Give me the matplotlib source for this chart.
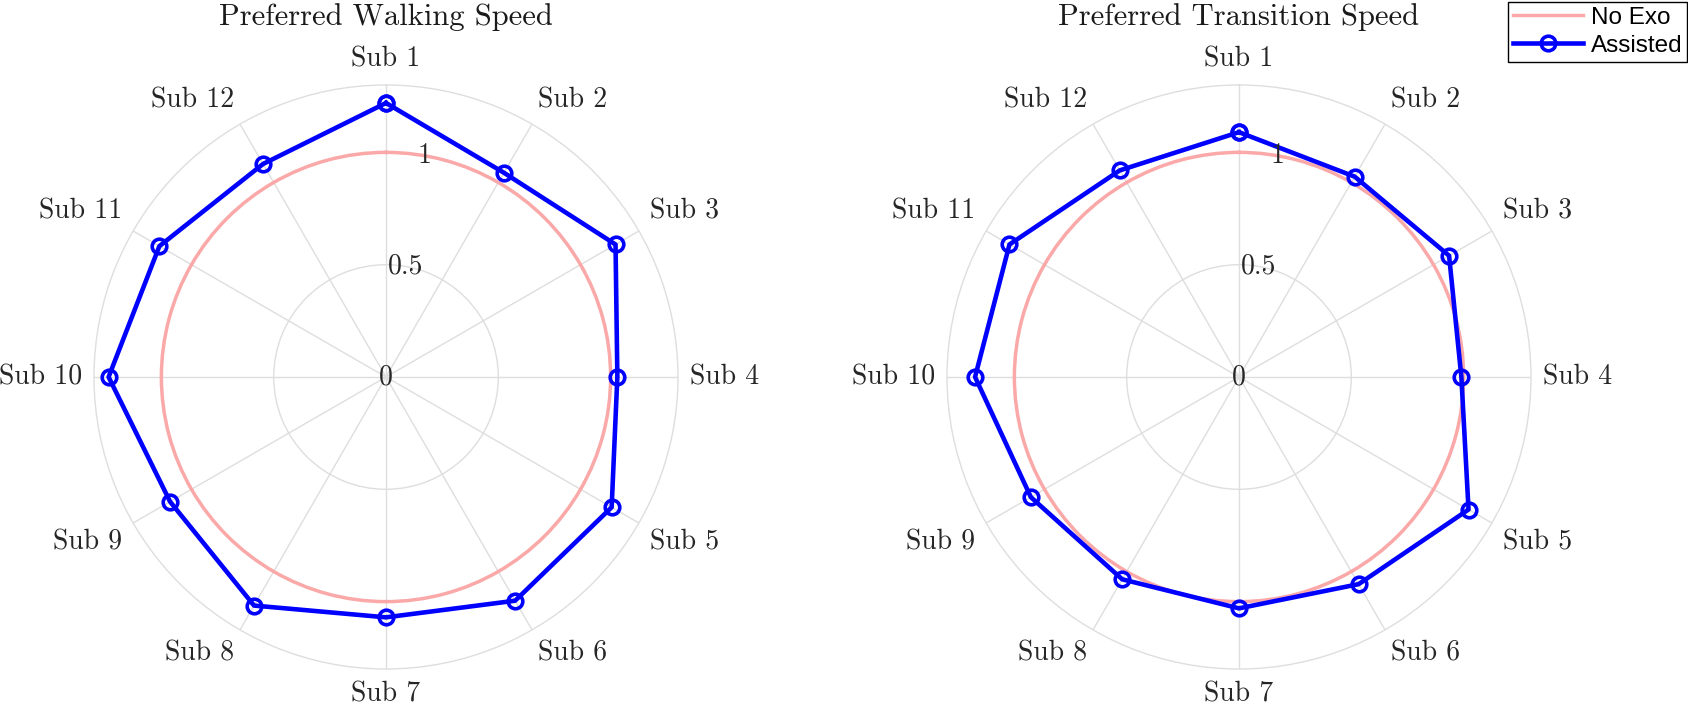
import numpy as np
import matplotlib
matplotlib.use("Agg")
import matplotlib.pyplot as plt
from matplotlib.font_manager import FontProperties

# ---- data ----
subjects = ["Sub 1", "Sub 2", "Sub 3", "Sub 4", "Sub 5", "Sub 6",
            "Sub 7", "Sub 8", "Sub 9", "Sub 10", "Sub 11", "Sub 12"]
no_exo = [1.0, 1.0, 1.0, 1.0, 1.0, 1.0, 1.0, 1.0, 1.0, 1.0, 1.0, 1.0]
walking_assisted = [1.22, 1.05, 1.18, 1.03, 1.16, 1.15,
                    1.07, 1.175, 1.11, 1.235, 1.165, 1.095]
transition_assisted = [1.09, 1.03, 1.08, 0.99, 1.18, 1.065,
                       1.03, 1.04, 1.07, 1.175, 1.18, 1.062]
titles = ["Preferred Walking Speed", "Preferred Transition Speed"]
r_ticks = [0, 0.5, 1]
r_tick_labels = ["0", "0.5", "1"]
r_max = 1.3

W, H = 1688, 707
fig = plt.figure(figsize=(W / 100, H / 100), dpi=100)

label_color = "#262626"
grid_color = "#dedede"
red = (0.98, 0.66, 0.66)
blue = (0.0, 0.0, 1.0)
serif = "cmr10"

centers = [(386, 377), (1239, 377)]
R = 292  # outer radius in pixels

angles_deg = np.arange(len(subjects)) * 30.0
theta = np.deg2rad(angles_deg)
theta_closed = np.append(theta, 2 * np.pi)

handles = None
for i, (cx, cy) in enumerate(centers):
    left = (cx - R) / W
    bottom = (H - cy - R) / H
    ax = fig.add_axes([left, bottom, 2 * R / W, 2 * R / H], projection="polar")
    ax.set_theta_zero_location("N")
    ax.set_theta_direction(-1)
    ax.set_ylim(0, r_max)
    ax.set_thetagrids(angles_deg, labels=[""] * len(subjects))
    ax.set_rgrids([0.5, 1.0], labels=["", ""])
    ax.grid(True, color=grid_color, lw=1.0)
    ax.spines["polar"].set_color(grid_color)
    ax.spines["polar"].set_linewidth(1.0)
    ax.tick_params(length=0)
    ax.set_facecolor("white")

    vals = walking_assisted if i == 0 else transition_assisted
    ne = np.append(no_exo, no_exo[0])
    l1, = ax.plot(theta_closed, ne, color=red, lw=2.5, zorder=3, label="No Exo")
    l1.get_path()._interpolation_steps = 60
    va = np.append(vals, vals[0])
    l2, = ax.plot(theta_closed, va, color=blue, lw=3.3, marker="o",
                  markersize=10.5, markerfacecolor="none", markeredgewidth=2.6,
                  zorder=4, label="Assisted")
    handles = [l1, l2]

    # subject labels
    r_lab = 1.355
    for ang, t, name in zip(angles_deg, theta, subjects):
        x = np.sin(np.deg2rad(ang))
        y = np.cos(np.deg2rad(ang))
        ha = "left" if x > 0.01 else ("right" if x < -0.01 else "center")
        vaa = "bottom" if y > 0.01 else ("top" if y < -0.01 else "center")
        ax.text(t, r_lab, name, ha=ha, va=vaa, fontsize=20, family=serif,
                color=label_color, clip_on=False)

    # radial labels
    for rv, rl in zip(r_ticks, r_tick_labels):
        ax.text(np.deg2rad(10), rv, rl, ha="center", va="center", fontsize=20,
                family=serif, color=label_color, zorder=5)

    ax.text(0.5, 1 + 60 / (2 * R), titles[i], transform=ax.transAxes,
            ha="center", va="baseline", fontsize=22, family=serif, color="#1a1a1a")

leg = fig.legend(handles, ["No Exo", "Assisted"], loc="upper right",
                 bbox_to_anchor=(1687 / W, 1 - 2 / H), bbox_transform=fig.transFigure,
                 prop=FontProperties(family="Liberation Sans", size=17.5),
                 frameon=True, fancybox=False, edgecolor="black", framealpha=1,
                 borderpad=0.2, handlelength=2.9, handletextpad=0.3,
                 labelspacing=0.25, borderaxespad=0, numpoints=1)
leg.get_frame().set_linewidth(1.0)

fig.savefig("out.png", dpi=100, facecolor="white")
